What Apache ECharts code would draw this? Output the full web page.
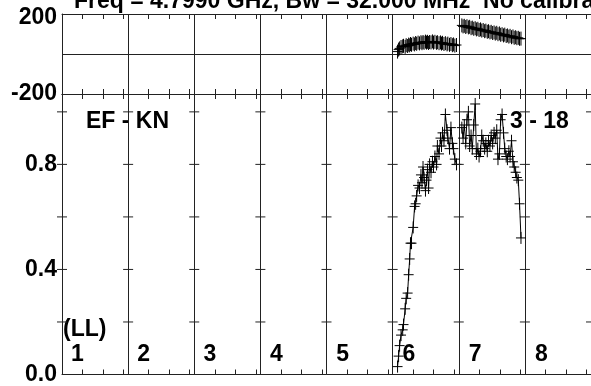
<!DOCTYPE html>
<html>
<head>
<meta charset="utf-8">
<style>
  html, body { margin: 0; padding: 0; background: #fff; }
  #chart { width: 591px; height: 386px; }
</style>
<script src="https://cdn.jsdelivr.net/npm/echarts@6.0.0/dist/echarts.min.js"></script>
</head>
<body>
<div id="chart"></div>
<script>
(function() {
  // --- data ---
  var panelHours = 3.22;               // width of one baseline panel, hours
  var baselineNames = ['1', '2', '3', '4', '5', '6', '7', '8'];
  var hourTicks = [0, 1, 2, 3];        // ticks inside each panel
  var ampTicks = [0.2, 0.4, 0.6, 0.8, 1.0];
  var ampLabels = [0, 0.4, 0.8];
  var phaseLabels = [-200, 200];

  // baseline 6
  var p6Time = [0.24, 0.29, 0.34, 0.41, 0.49, 0.53, 0.61, 0.66, 0.73, 0.78, 0.83, 0.87,
    0.92, 1.00, 1.07, 1.12, 1.17, 1.24, 1.31, 1.38, 1.43, 1.48, 1.53, 1.60, 1.65, 1.70,
    1.75, 1.80, 1.87, 1.94, 1.99, 2.06, 2.14, 2.18, 2.26, 2.33, 2.38, 2.43, 2.50, 2.57,
    2.65, 2.69, 2.77, 2.84, 2.91, 2.96, 3.03, 3.11];
  var p6Amp = [0.03, 0.07, 0.11, 0.15, 0.17, 0.19, 0.25, 0.29, 0.31, 0.38, 0.44, 0.50,
    0.50, 0.56, 0.64, 0.65, 0.68, 0.72, 0.71, 0.76, 0.73, 0.79, 0.75, 0.70, 0.74, 0.78,
    0.71, 0.80, 0.77, 0.81, 0.79, 0.83, 0.80, 0.87, 0.84, 0.90, 0.87, 0.92, 0.89, 0.99,
    0.93, 0.90, 0.86, 0.94, 0.88, 0.86, 0.82, 0.80];
  var p6Phase = [12, 22, 28, 35, 38, 41, 36, 44, 40, 47, 43, 50, 46, 52, 48, 55, 51, 57,
    53, 59, 54, 60, 56, 62, 57, 61, 55, 60, 58, 63, 57, 61, 56, 59, 54, 58, 52, 56, 50,
    54, 48, 52, 46, 50, 44, 48, 42, 45];

  // baseline 7
  var p7Time = [0.15, 0.21, 0.27, 0.34, 0.40, 0.47, 0.53, 0.60, 0.66, 0.73, 0.80, 0.86,
    0.93, 0.99, 1.06, 1.12, 1.19, 1.26, 1.32, 1.39, 1.45, 1.52, 1.58, 1.65, 1.72, 1.78,
    1.85, 1.91, 1.98, 2.04, 2.11, 2.18, 2.24, 2.31, 2.37, 2.44, 2.50, 2.57, 2.64, 2.70,
    2.77, 2.83, 2.90, 2.96, 3.03];
  var p7Amp = [0.94, 0.90, 0.95, 0.88, 0.97, 1.00, 0.87, 0.91, 0.86, 0.95, 1.03, 0.84,
    0.86, 0.83, 0.85, 0.91, 0.89, 0.86, 0.88, 0.85, 0.89, 0.87, 0.91, 0.88, 0.92, 0.90,
    0.93, 0.82, 0.84, 0.97, 0.99, 0.92, 0.86, 0.83, 0.82, 0.85, 0.83, 0.89, 0.81, 0.79,
    0.77, 0.75, 0.74, 0.65, 0.52];
  var p7Phase = [143, 138, 141, 135, 139, 133, 136, 129, 132, 126, 129, 123, 126, 120,
    123, 117, 120, 114, 117, 111, 114, 108, 111, 105, 108, 102, 106, 99, 103, 96, 99, 93,
    97, 90, 93, 87, 91, 84, 88, 81, 84, 79, 81, 76, 77];

  var ink = '#000';
  var gridInk = '#222';
  var font = '"Liberation Sans", Arial, Helvetica, sans-serif';
  var xMax = panelHours * baselineNames.length;

  function toPoints(panel, times, vals) {
    return times.map(function(t, i) { return [panel * panelHours + t, vals[i]]; });
  }
  var ampSets = [toPoints(5, p6Time, p6Amp), toPoints(6, p7Time, p7Amp)];
  var phaseSets = [toPoints(5, p6Time, p6Phase), toPoints(6, p7Time, p7Phase)];

  var tickValues = [];
  baselineNames.forEach(function(n, k) {
    hourTicks.forEach(function(h) { tickValues.push(k * panelHours + h); });
  });
  var crossValues = [];
  for (var k = 0; k <= baselineNames.length; k++) {
    ampTicks.forEach(function(v) { crossValues.push([k * panelHours, v]); });
  }

  // axis carrying the per-panel hour ticks
  function tickAxis(gridIndex, position) {
    return {
      type: 'value', gridIndex: gridIndex, position: position,
      min: 0, max: xMax, interval: panelHours,
      axisLine: { show: true, onZero: false, lineStyle: { color: gridInk, width: 1 } },
      axisTick: { show: true, inside: true, length: 5, customValues: tickValues,
        lineStyle: { color: gridInk } },
      axisLabel: { show: false },
      splitLine: { show: false }
    };
  }
  // hidden axis that only draws the panel boundaries
  function splitAxis(gridIndex) {
    return {
      type: 'value', gridIndex: gridIndex, position: 'bottom',
      min: 0, max: xMax, interval: panelHours,
      axisLine: { show: false }, axisTick: { show: false }, axisLabel: { show: false },
      splitLine: { show: true, lineStyle: { color: gridInk, width: 1 } }
    };
  }

  function crossRender(halfW, halfH) {
    return function(params, api) {
      var p = api.coord([api.value(0), api.value(1)]);
      return {
        type: 'group',
        children: [
          { type: 'line', shape: { x1: p[0] - halfW, y1: p[1], x2: p[0] + halfW, y2: p[1] },
            style: { stroke: ink, lineWidth: 1 } },
          { type: 'line', shape: { x1: p[0], y1: p[1] - halfH, x2: p[0], y2: p[1] + halfH },
            style: { stroke: ink, lineWidth: 1 } }
        ]
      };
    };
  }

  var series = [];
  [[phaseSets, 0, 0, 7], [ampSets, 3, 1, 6]].forEach(function(cfg) {
    cfg[0].forEach(function(pts) {
      series.push({
        type: 'line', xAxisIndex: cfg[1], yAxisIndex: cfg[2], data: pts,
        showSymbol: false, lineStyle: { color: ink, width: 1 }, silent: true
      });
      series.push({
        type: 'custom', xAxisIndex: cfg[1], yAxisIndex: cfg[2], data: pts,
        renderItem: crossRender(5, cfg[3]), silent: true
      });
    });
  });
  // y ticks drawn as crosses on every panel boundary
  series.push({
    type: 'custom', xAxisIndex: 3, yAxisIndex: 1, data: crossValues, silent: true,
    renderItem: function(params, api) {
      var p = api.coord([api.value(0), api.value(1)]);
      return { type: 'line', shape: { x1: p[0] - 5, y1: p[1], x2: p[0] + 5, y2: p[1] },
        style: { stroke: gridInk, lineWidth: 1 } };
    }
  });

  var labelStyle = { color: ink, fontFamily: font, fontWeight: 'bold', fontSize: 23 };
  var bigFont = 'bold 23px ' + font;

  var graphics = [
    { type: 'text', left: 74, top: -10, style: { text: 'Freq = 4.7990 GHz, Bw = 32.000 MHz  No calibration',
      fill: ink, font: bigFont } },
    { type: 'text', left: 86, top: 110, style: { text: 'EF - KN', fill: ink, font: bigFont } },
    { type: 'text', left: 510, top: 110, style: { text: '3 - 18', fill: ink, font: bigFont } },
    { type: 'text', left: 63, top: 318, style: { text: '(LL)', fill: ink, font: bigFont } }
  ];
  baselineNames.forEach(function(n, k) {
    graphics.push({ type: 'text', left: 71 + k * 66.3, top: 343.5,
      style: { text: n, fill: ink, font: bigFont } });
  });

  var chart = echarts.init(document.getElementById('chart'), null, { renderer: 'canvas' });
  chart.setOption({
    animation: false,
    backgroundColor: '#fff',
    grid: [
      { left: 62, right: -2, top: 14, height: 80 },
      { left: 62, right: -2, top: 94, height: 288.5 }
    ],
    xAxis: [
      tickAxis(0, 'bottom'), tickAxis(0, 'top'), splitAxis(0),
      tickAxis(1, 'bottom'), tickAxis(1, 'top'), splitAxis(1)
    ],
    yAxis: [
      {
        type: 'value', gridIndex: 0, min: -200, max: 200, interval: 200,
        axisLine: { show: true, lineStyle: { color: gridInk } },
        axisTick: { show: false },
        axisLabel: Object.assign({ margin: 5, customValues: phaseLabels,
          formatter: function(v) { return v > 0 ? '{hi|' + v + '}' : String(v); },
          rich: { hi: { fontFamily: font, fontWeight: 'bold', fontSize: 23, color: ink,
            padding: [8, 0, 0, 0] } } }, labelStyle),
        splitLine: { show: true, lineStyle: { color: gridInk, width: 1 } }
      },
      {
        type: 'value', gridIndex: 1, min: 0, max: 1.068, interval: 0.2,
        axisLine: { show: true, lineStyle: { color: gridInk } },
        axisTick: { show: false },
        axisLabel: Object.assign({ margin: 5, customValues: ampLabels,
          formatter: function(v) { return v.toFixed(1); } }, labelStyle),
        splitLine: { show: false }
      }
    ],
    series: series,
    graphic: graphics
  });
  window.addEventListener('resize', function() { chart.resize(); });
})();
</script>
</body>
</html>
